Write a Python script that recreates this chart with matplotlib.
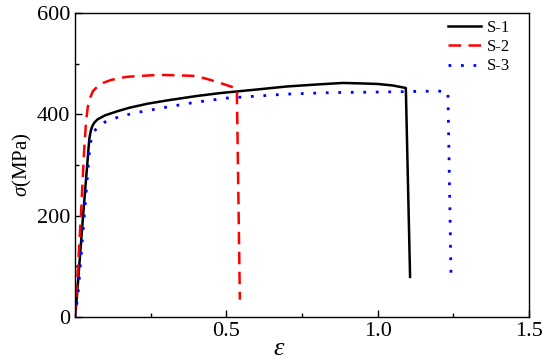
import numpy as np
import matplotlib
matplotlib.use('Agg')
import matplotlib.pyplot as plt
from matplotlib.ticker import MultipleLocator

# strain / stress
s1_strain = [0, 0.005, 0.027, 0.048, 0.053, 0.058, 0.065, 0.075, 0.1, 0.14, 0.18, 0.24, 0.31, 0.4, 0.48,
             0.6, 0.7, 0.8, 0.885, 0.95, 1.0, 1.05, 1.093, 1.107]
s1_stress = [0, 25, 197, 352, 368, 377, 384, 390, 398, 406, 413, 421, 428, 436, 442,
             449, 455, 459, 462, 461, 460, 457, 452, 79]

s2_strain = [0, 0.005, 0.02, 0.03, 0.037, 0.043, 0.05, 0.06, 0.075, 0.093, 0.12, 0.17, 0.22, 0.28, 0.34,
             0.39, 0.43, 0.47, 0.51, 0.535, 0.545]
s2_stress = [0, 40, 197, 320, 385, 415, 432, 446, 455, 462, 468, 474, 476, 478, 477,
             476, 471, 464, 456, 451, 34]

s3_strain = [0, 0.01, 0.03, 0.05, 0.058, 0.065, 0.075, 0.1, 0.15, 0.2, 0.31, 0.4, 0.5, 0.6, 0.7, 0.85,
             1.0, 1.1, 1.2, 1.232, 1.242]
s3_stress = [0, 40, 190, 340, 358, 367, 375, 385, 396, 403, 415, 424, 432, 436, 440, 443,
             444, 445, 446, 444, 87]

labels = ['S-1', 'S-2', 'S-3']


def main():
    plt.rcParams['font.family'] = 'Liberation Serif'
    plt.rcParams['mathtext.fontset'] = 'custom'
    plt.rcParams['mathtext.rm'] = 'Liberation Serif'
    plt.rcParams['mathtext.it'] = 'Liberation Serif:italic'

    fig = plt.figure(figsize=(5.5, 3.63), dpi=100)
    ax = fig.add_axes([0.136, 0.127, 0.826, 0.837])

    ax.plot(s1_strain, s1_stress, color='black', lw=1.8, ls='-', label=labels[0])
    ax.plot(s2_strain, s2_stress, color='#ff0000', lw=1.8, ls=(0, (5, 3)), label=labels[1])
    ax.plot(s3_strain, s3_stress, color='#0000ff', lw=2.0, ls=(0, (1, 3.5)), label=labels[2])

    ax.set_xlim(0, 1.5)
    ax.set_ylim(0, 600)
    ax.xaxis.set_major_locator(MultipleLocator(0.5))
    ax.xaxis.set_minor_locator(MultipleLocator(0.25))
    ax.yaxis.set_major_locator(MultipleLocator(200))
    ax.yaxis.set_minor_locator(MultipleLocator(100))
    ax.set_xticks([0.5, 1.0, 1.5])
    ax.tick_params(which='both', direction='in', labelsize=16)
    ax.tick_params(which='major', length=5, width=1)
    ax.tick_params(which='minor', length=3, width=1)
    for sp in ax.spines.values():
        sp.set_linewidth(1.0)

    ax.set_xlabel(r'$\varepsilon$', fontsize=19)
    ax.xaxis.set_label_coords(0.45, -0.07)
    ax.set_ylabel(r'$\sigma$(MPa)', fontsize=15, labelpad=2)

    ax.legend(loc='upper right', bbox_to_anchor=(0.972, 1.0), frameon=False, fontsize=12,
              handlelength=2.0, handletextpad=0.3, labelspacing=0.2, borderaxespad=0.0)

    plt.savefig('out.png', dpi=100)


if __name__ == "__main__":
    main()
